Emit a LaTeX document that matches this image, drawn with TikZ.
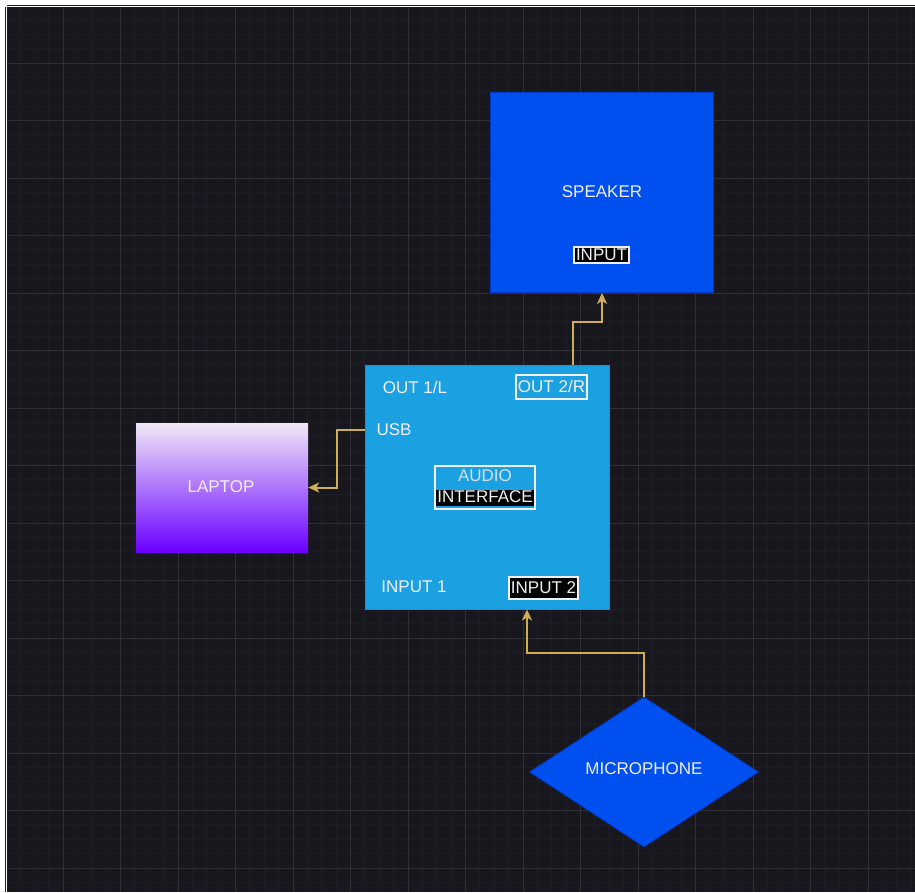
\documentclass[tikz,border=0pt]{standalone}
\usepackage{fontspec}
\setmainfont{Liberation Sans}
\usetikzlibrary{positioning,shapes.geometric,arrows.meta}

\definecolor{canvasbg}{HTML}{18171E}
\definecolor{gridmajor}{HTML}{302F37}
\definecolor{gridminor}{HTML}{1E1D25}
\definecolor{spkblue}{HTML}{0050EF}
\definecolor{spkedge}{HTML}{0038C8}
\definecolor{ifblue}{HTML}{1BA1E2}
\definecolor{ifedge}{HTML}{1890D0}
\definecolor{laptop}{HTML}{F0E8F6}
\definecolor{lapbot}{HTML}{6A00FF}
\definecolor{wiregold}{HTML}{CFAE55}
\definecolor{txt}{HTML}{F2EEF4}

\begin{document}
\begin{tikzpicture}[x=1pt,y=-1pt,
      lbl/.style={text=txt,font=\fontsize{17}{20}\selectfont,inner sep=1pt},
      tagbox/.style={lbl,draw=txt,line width=1.2pt,inner xsep=2pt,text height=12pt,text depth=2pt},
      tagdark/.style={tagbox,fill=black},
      wire/.style={draw=wiregold,line width=2pt,-{Stealth[length=11pt,width=10pt,inset=3pt]}}]
    \useasboundingbox (0,0) rectangle (915,892);
    \fill[white] (0,0) rectangle (915,892);
    \fill[canvasbg] (7,7) rectangle (915,892);
    % grid: four minor cells to each major cell
    \foreach \k in {0,...,63} {
      \draw[gridminor,line width=0.8pt] (5.5+14.375*\k,7) -- (5.5+14.375*\k,892);
      \draw[gridminor,line width=0.8pt] (7,5.5+14.375*\k) -- (915,5.5+14.375*\k);
    }
    \foreach \k in {1,...,15} {
      \draw[gridmajor,line width=1pt] (5.5+57.5*\k,7) -- (5.5+57.5*\k,892);
      \draw[gridmajor,line width=1pt] (7,5.5+57.5*\k) -- (915,5.5+57.5*\k);
    }

    % speaker
    \node[rectangle,fill=spkblue,draw=spkedge,line width=0.8pt,minimum width=223pt,minimum height=200pt] (spk) at (602,192.5) {};
    \node[lbl] (spkname) at (602,192) {SPEAKER};
    \node[tagdark] (spkin) at (601.5,255) {INPUT};

    % audio interface
    \node[rectangle,fill=ifblue,draw=ifedge,line width=0.8pt,minimum width=244pt,minimum height=244pt] (iface) at (487,487) {};
    \node[lbl] (out1) at (415,387) {OUT 1/L};
    \node[tagbox,minimum width=71pt,minimum height=24pt] (out2) at (551.5,387) {OUT 2/R};
    \node[lbl] (usb) at (394,430) {USB};
    \node[draw=txt,line width=1.2pt,minimum width=100pt,minimum height=43pt] (ifbox) at (485,487.5) {};
    \node[lbl,text=txt!85!ifblue] (ifname) at (485,476) {AUDIO};
    \node[lbl,fill=black,text height=12pt,text depth=2pt] (iftype) at (485,497.5) {INTERFACE};
    \node[lbl] (in1) at (414,587) {INPUT 1};
    \node[tagdark,minimum width=67pt,minimum height=22pt] (in2) at (543.5,588) {INPUT 2};

    % laptop
    \node[rectangle,top color=laptop,bottom color=lapbot,minimum width=172pt,minimum height=129pt] (lap) at (222,487.5) {};
    \node[lbl] (lapname) at (221,487) {LAPTOP};

    % microphone
    \node[diamond,fill=spkblue,draw=spkedge,line width=0.8pt,aspect=1.53,minimum width=229pt,minimum height=150pt,inner sep=0pt] (mic) at (644,772) {};
    \node[lbl] (micname) at (644,769) {MICROPHONE};

    % connectors
    \draw[wire] ([xshift=-36pt]iface.north east) -- ++(0,-43) -| (spk.south);
    \draw[wire] ([yshift=57pt]iface.west) -- ++(-28,0) |- (lap.east);
    \draw[wire] (mic.north) -- ++(0,-44) -| ([xshift=40pt]iface.south);
  \end{tikzpicture}
\end{document}
